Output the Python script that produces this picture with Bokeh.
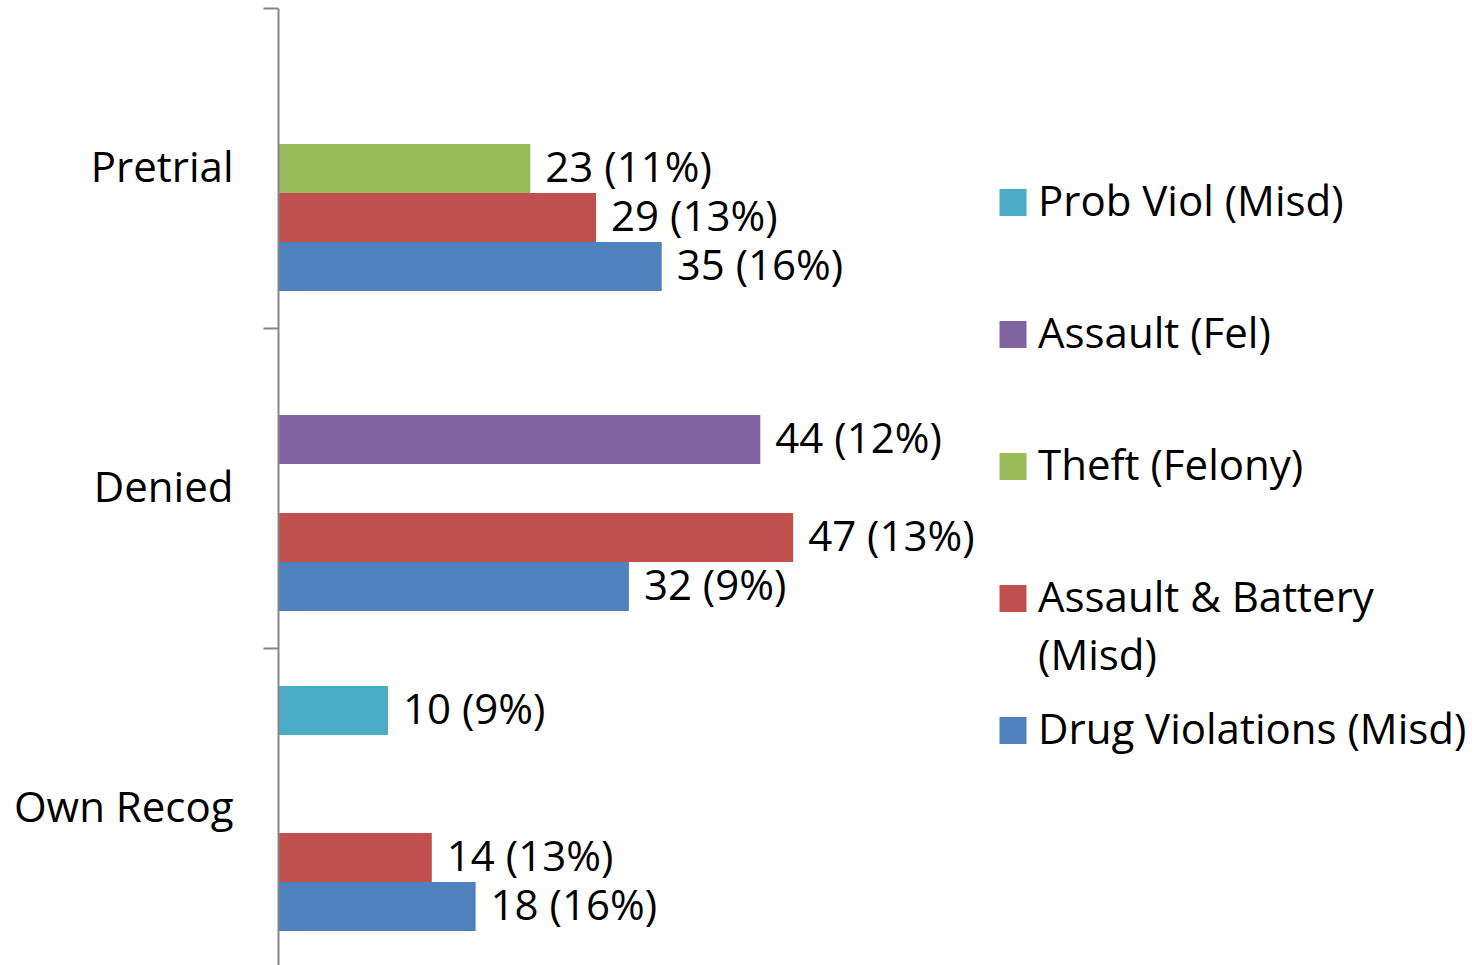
from bokeh.plotting import figure
from bokeh.models import ColumnDataSource, Range1d, FixedTicker
from bokeh.core.properties import value
from bokeh.embed import file_html
from bokeh.resources import INLINE

# ---------------- data ----------------
categories = ["Pretrial", "Denied", "Own Recog"]
series_names = ["Drug Violations (Misd)", "Assault & Battery (Misd)",
                "Theft (Felony)", "Assault (Fel)", "Prob Viol (Misd)"]
drug_counts = [35, 32, 18]
drug_pct = [16, 9, 16]
ab_counts = [29, 47, 14]
ab_pct = [13, 13, 13]
theft_counts = [23, None, None]
theft_pct = [11, None, None]
assault_fel_counts = [None, 44, None]
assault_fel_pct = [None, 12, None]
prob_viol_counts = [None, None, 10]
prob_viol_pct = [None, None, 9]
legend_lines = {"Assault & Battery (Misd)": ["Assault & Battery", "(Misd)"]}

# ---------------- styling / layout ----------------
colors = ["#4F81BD", "#C0504D", "#9BBB59", "#8064A2", "#4BACC6"]
FONT = "Open Sans"
FS = "42px"
TEXT_DY = 3  # px upward nudge for text vertical centring
PX_PER_UNIT = 10.95
W, H = 1480, 965
LEFT = 278
TOP = 8
frame_w = W - LEFT
frame_h = H - TOP
CAT_PX = 320.0
SLOT_PX = 49.0
PAD_PX = 37.5

x_end = frame_w / PX_PER_UNIT
y_top = 3.0
y_bottom = y_top - frame_h / CAT_PX

p = figure(width=W, height=H, output_backend="svg", toolbar_location=None,
           x_range=Range1d(0, x_end), y_range=Range1d(y_bottom, y_top),
           x_axis_location=None, min_border_left=LEFT, min_border_right=0,
           min_border_top=TOP, min_border_bottom=0)
p.outline_line_color = None
p.grid.visible = False
p.background_fill_color = "white"
p.border_fill_color = "white"

all_counts = [drug_counts, ab_counts, theft_counts, assault_fel_counts, prob_viol_counts]
all_pct = [drug_pct, ab_pct, theft_pct, assault_fel_pct, prob_viol_pct]
n_cat = len(categories)

for i, (name, counts, pcts) in enumerate(zip(series_names, all_counts, all_pct)):
    ys, vs, labels = [], [], []
    for k, (c, pc) in enumerate(zip(counts, pcts)):
        if c is None:
            continue
        base = (n_cat - 1 - k)
        ys.append(base + (PAD_PX + SLOT_PX * (i + 0.5)) / CAT_PX)
        vs.append(c)
        labels.append(f"{c} ({pc}%)")
    src = ColumnDataSource(dict(y=ys, v=vs, label=labels))
    p.hbar(y="y", left=0, right="v", height=SLOT_PX / CAT_PX, source=src,
           fill_color=colors[i], line_color=None)
    p.text(x="v", y="y", text="label", source=src, x_offset=15, y_offset=-TEXT_DY,
           text_baseline="middle", text_align="left",
           text_font=value(FONT), text_font_size=FS, text_color="black")

# ---------------- y axis ----------------
centers = [n_cat - 1 - k + 0.5 + TEXT_DY / CAT_PX for k in range(n_cat)]
ax = p.yaxis[0]
ax.ticker = FixedTicker(ticks=centers, minor_ticks=list(range(n_cat + 1)))
ax.major_label_overrides = {c: cat for c, cat in zip(centers, categories)}
ax.major_tick_line_color = None
ax.major_tick_out = 0
ax.major_tick_in = 0
ax.minor_tick_out = 15
ax.minor_tick_in = 0
ax.minor_tick_line_color = "#868686"
ax.minor_tick_line_width = 2
ax.axis_line_color = "#868686"
ax.axis_line_width = 2
ax.major_label_standoff = 30
ax.major_label_text_font = FONT
ax.major_label_text_font_size = FS
ax.major_label_text_color = "black"

# ---------------- legend (drawn manually) ----------------
def px_to_x(px):
    return (px - LEFT) / PX_PER_UNIT

def py_to_y(py):
    return y_top - (py - TOP) / CAT_PX

sw_x = px_to_x(1012.5)
item_y0 = 202
item_step = 132
line_step = 58
for j, i in enumerate(reversed(range(len(series_names)))):
    name = series_names[i]
    yy = py_to_y(item_y0 + item_step * j)
    p.rect(x=[sw_x], y=[yy], width=27, height=27, width_units="screen",
           height_units="screen", fill_color=colors[i], line_color=None)
    lines = legend_lines.get(name, [name])
    ly = [py_to_y(item_y0 + item_step * j + line_step * n) for n in range(len(lines))]
    p.text(x=[sw_x] * len(lines), y=ly, text=lines, x_offset=25, y_offset=-TEXT_DY,
           text_baseline="middle", text_align="left",
           text_font=value(FONT), text_font_size=FS, text_color="black")

open("out.html", "w").write(file_html(p, INLINE))
